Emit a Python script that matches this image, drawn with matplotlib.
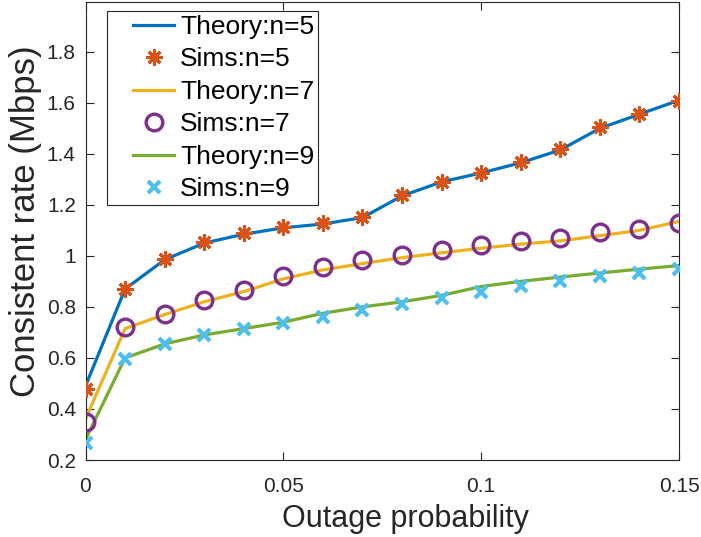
import numpy as np
import matplotlib
matplotlib.use('Agg')
import matplotlib.pyplot as plt
from matplotlib.ticker import FuncFormatter
from matplotlib.legend_handler import HandlerLine2D

plt.rcParams['font.family'] = ['Liberation Sans', 'DejaVu Sans']

# outage probability
x = [0, 0.01, 0.02, 0.03, 0.04, 0.05, 0.06, 0.07, 0.08, 0.09, 0.10, 0.11, 0.12, 0.13, 0.14, 0.15]

# consistent rate (Mbps)
theory5 = [0.49, 0.87, 0.985, 1.05, 1.085, 1.11, 1.125, 1.15, 1.235, 1.29, 1.325, 1.365, 1.415, 1.50, 1.555, 1.61]
sims5 = [0.48, 0.87, 0.986, 1.053, 1.088, 1.114, 1.128, 1.154, 1.24, 1.29, 1.325, 1.367, 1.42, 1.505, 1.557, 1.607]
theory7 = [0.36, 0.715, 0.77, 0.82, 0.86, 0.91, 0.945, 0.97, 0.993, 1.012, 1.03, 1.046, 1.059, 1.079, 1.10, 1.135]
sims7 = [0.347, 0.722, 0.771, 0.826, 0.868, 0.92, 0.958, 0.982, 1.003, 1.022, 1.042, 1.059, 1.072, 1.092, 1.105, 1.13]
theory9 = [0.28, 0.60, 0.655, 0.69, 0.715, 0.74, 0.775, 0.80, 0.82, 0.845, 0.88, 0.90, 0.917, 0.933, 0.948, 0.962]
sims9 = [0.268, 0.596, 0.655, 0.688, 0.714, 0.736, 0.762, 0.787, 0.81, 0.833, 0.859, 0.882, 0.903, 0.921, 0.934, 0.949]

xticks = [0, 0.05, 0.1, 0.15]
yticks = [0.2, 0.4, 0.6, 0.8, 1.0, 1.2, 1.4, 1.6, 1.8]

dark = '#262626'
asterisk = (8, 2, 0)


class LeadHandler(HandlerLine2D):
    """ legend line drawn only on the right part of the handle box (MATLAB look) """
    lead = 0.35

    def create_artists(self, legend, orig_handle, xdescent, ydescent, width, height, fontsize, trans):
        arts = super().create_artists(legend, orig_handle, xdescent, ydescent, width, height, fontsize, trans)
        off = self.lead * width
        for a in arts:
            xd = np.asarray(a.get_xdata(), float)
            a.set_xdata(off + xd * (width - off) / width)
        return arts


W, H = 701, 537
L, R, B, T = 85.5, 679, 460, 2

fig = plt.figure(figsize=(W/100, H/100), dpi=100)
ax = fig.add_axes([L/W, 1 - B/H, (R - L)/W, (B - T)/H])

lw = 2.3
ax.plot(x, theory5, color='#0072BD', lw=lw, label='Theory:n=5', zorder=2)
ax.plot(x, sims5, ls='none', marker=asterisk, ms=11.5, mew=2.2, color='#D95319', label='Sims:n=5', zorder=3)
ax.plot(x, theory7, color='#EDB120', lw=lw, label='Theory:n=7', zorder=2)
ax.plot(x, sims7, ls='none', marker='o', ms=12, mew=2.4, mfc='none', color='#7E2F8E', label='Sims:n=7', zorder=3)
ax.plot(x, theory9, color='#77AC30', lw=lw, label='Theory:n=9', zorder=2)
ax.plot(x, sims9, ls='none', marker='x', ms=9, mew=3, color='#4DBEEE', label='Sims:n=9', zorder=3)

ax.set_xlim(0, 0.15)
ax.set_ylim(0.2, 1.995)
ax.set_xticks(xticks)
ax.set_yticks(yticks)
fmt = FuncFormatter(lambda v, p: '%g' % round(v, 3))
ax.xaxis.set_major_formatter(fmt)
ax.yaxis.set_major_formatter(fmt)
ax.tick_params(direction='in', top=True, right=True, length=6, width=0.8,
               labelsize=15, colors=dark)
ax.tick_params(axis='x', pad=12)
ax.tick_params(axis='y', pad=7)
for s in ax.spines.values():
    s.set_color(dark)
    s.set_linewidth(0.8)

ax.set_xlabel('Outage probability', fontsize=22, color=dark)
ax.set_ylabel('Consistent rate (Mbps)', fontsize=25, color=dark)
ax.xaxis.set_label_coords((405 - L)/(R - L), (B - 504)/(B - T))
ax.yaxis.set_label_coords((42 - L)/(R - L), (B - 221)/(B - T))

leg = ax.legend(loc='upper left', bbox_to_anchor=((107 - L)/(R - L), 1 - 9/(B - T)), fontsize=19,
                frameon=True, fancybox=False, edgecolor=dark, framealpha=1,
                handlelength=2.39, handletextpad=0.23, borderpad=0.15,
                labelspacing=0.32, borderaxespad=0,
                handler_map={matplotlib.lines.Line2D: LeadHandler()})
leg.get_frame().set_linewidth(0.8)

fig.savefig('out.png', dpi=100)
